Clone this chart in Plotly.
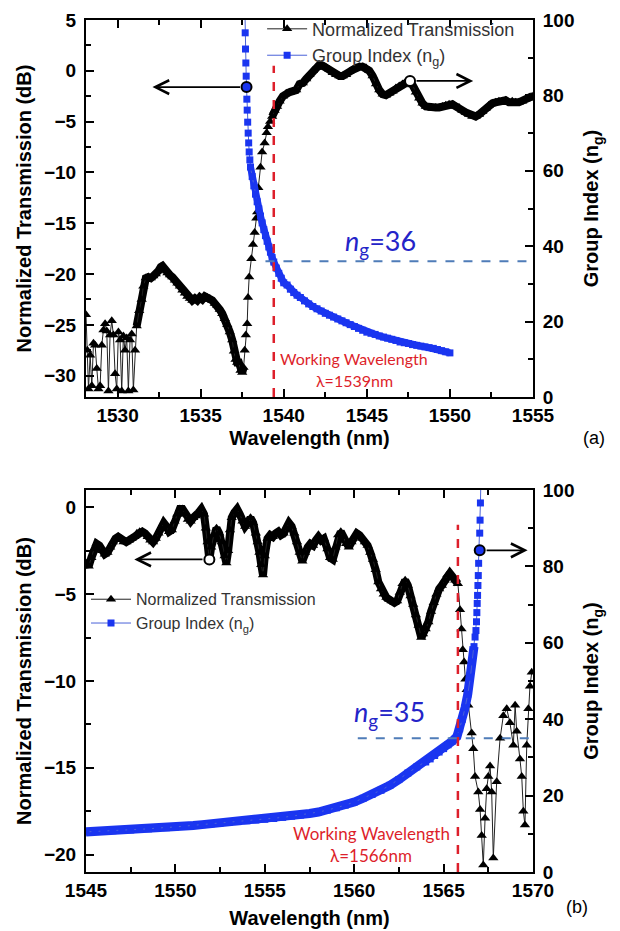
import plotly.graph_objects as go

# ---------------- Panel (a) data ----------------
wl_trans_a = [1528.10, 1528.18, 1528.25, 1528.35, 1528.45, 1528.55, 1528.65, 1528.75, 1528.85, 1528.95,
              1529.05, 1529.15, 1529.25, 1529.35, 1529.45, 1529.55, 1529.65, 1529.75, 1529.85, 1529.95,
              1530.05, 1530.15, 1530.25, 1530.35, 1530.45, 1530.55, 1530.65, 1530.75, 1530.85, 1530.95,
              1531.05, 1531.15, 1531.30, 1531.45, 1531.55, 1531.70, 1531.85, 1532.00, 1532.15, 1532.30,
              1532.45, 1532.60, 1532.70, 1532.85, 1533.00, 1533.15, 1533.30, 1533.45, 1533.60, 1533.75,
              1533.90, 1534.05, 1534.20, 1534.35, 1534.50, 1534.65, 1534.80, 1534.95, 1535.10, 1535.25,
              1535.40, 1535.55, 1535.70, 1535.85, 1536.00, 1536.15, 1536.30, 1536.45, 1536.60, 1536.75,
              1536.90, 1537.00, 1537.10, 1537.20, 1537.30, 1537.40, 1537.50, 1537.58, 1537.65, 1537.72,
              1537.80, 1537.85, 1537.92, 1538.05, 1538.15, 1538.25, 1538.35, 1538.40, 1538.47, 1538.60,
              1538.70, 1538.85, 1538.97, 1539.05, 1539.18, 1539.30, 1539.45, 1539.60, 1539.75, 1539.95,
              1540.15, 1540.35, 1540.55, 1540.75, 1540.95, 1541.15, 1541.35, 1541.55, 1541.75, 1541.95,
              1542.15, 1542.35, 1542.55, 1542.75, 1542.95, 1543.15, 1543.35, 1543.55, 1543.75, 1543.95,
              1544.15, 1544.35, 1544.55, 1544.75, 1544.95, 1545.15, 1545.35, 1545.55, 1545.75, 1545.95,
              1546.15, 1546.35, 1546.55, 1546.75, 1546.95, 1547.15, 1547.35, 1547.55, 1547.75, 1547.95,
              1548.15, 1548.35, 1548.55, 1548.75, 1548.95, 1549.15, 1549.35, 1549.55, 1549.75, 1549.95,
              1550.15, 1550.35, 1550.55, 1550.75, 1550.95, 1551.15, 1551.35, 1551.55, 1551.75, 1551.95,
              1552.15, 1552.35, 1552.55, 1552.75, 1552.95, 1553.15, 1553.35, 1553.55, 1553.75, 1553.95,
              1554.15, 1554.35, 1554.55, 1554.75, 1554.95]
trans_a = [-24.0, -27.5, -31.3, -28.0, -31.0, -26.8, -27.0, -29.3, -31.3, -31.0,
           -27.0, -25.5, -24.9, -25.6, -31.5, -26.0, -24.6, -26.0, -29.8, -31.3,
           -25.7, -26.5, -31.5, -26.1, -27.5, -26.3, -31.5, -26.5, -25.9, -31.4,
           -27.5, -25.1, -23.6, -22.5, -21.2, -20.4, -20.3, -20.4, -20.2, -20.0,
           -19.7, -19.3, -19.2, -19.5, -19.9, -20.1, -20.3, -20.6, -20.9, -21.2,
           -21.6, -21.9, -22.2, -22.4, -22.6, -22.4, -22.6, -22.3, -22.5, -22.2,
           -22.3, -22.4, -22.6, -22.9, -23.1, -23.5, -23.9, -24.4, -25.0, -25.7,
           -26.5, -27.6, -28.4, -28.7, -28.7, -29.5, -29.7, -29.2, -27.5, -26.0,
           -24.9, -22.3, -20.3, -18.5, -17.1, -15.9, -14.5, -13.9, -11.5, -9.5,
           -8.0, -7.1, -6.1, -5.5, -5.0, -4.5, -3.9, -3.5, -3.0, -2.5,
           -2.2, -2.1, -2.0, -1.9, -1.3, -1.2, -0.8, -0.4, 0.0, 0.3,
           0.6, 0.5, 0.3, 0.1, -0.2, -0.4, -0.5, -0.5, -0.4, -0.1,
           0.1, 0.3, 0.4, 0.4, 0.3, 0.0, -0.5, -1.3, -1.9, -2.3,
           -2.4, -2.2, -2.0, -1.7, -1.5, -1.3, -1.1, -1.0, -1.4, -2.1,
           -2.7, -3.2, -3.5, -3.6, -3.7, -3.6, -3.6, -3.5, -3.4, -3.3,
           -3.3, -3.5, -3.6, -3.9, -4.1, -4.3, -4.5, -4.5, -4.3, -4.0,
           -3.7, -3.4, -3.2, -3.1, -3.0, -3.0, -2.9, -3.1, -3.0, -3.1,
           -3.1, -3.0, -2.8, -2.7, -2.5]

wl_ng_a = [1537.67, 1537.68, 1537.70, 1537.72, 1537.74, 1537.76, 1537.78, 1537.80, 1537.83, 1537.86,
           1537.89, 1537.92, 1537.96, 1538.00, 1538.10, 1538.20, 1538.30, 1538.40, 1538.50, 1538.60,
           1538.70, 1538.80, 1538.90, 1539.00, 1539.10, 1539.20, 1539.30, 1539.40, 1539.55, 1539.70,
           1539.85, 1540.00, 1540.20, 1540.40, 1540.60, 1540.80, 1541.00, 1541.25, 1541.50, 1541.75,
           1542.00, 1542.25, 1542.50, 1542.75, 1543.00, 1543.25, 1543.50, 1543.75, 1544.00, 1544.25,
           1544.50, 1544.75, 1545.00, 1545.25, 1545.50, 1545.75, 1546.00, 1546.25, 1546.50, 1546.75,
           1547.00, 1547.25, 1547.50, 1547.75, 1548.00, 1548.25, 1548.50, 1548.75, 1549.00, 1549.25,
           1549.50, 1549.75, 1550.00]
ng_a = [101.0, 96.6, 92.3, 88.6, 85.1, 82.2, 79.0, 76.1, 72.9, 70.0,
        67.4, 65.0, 62.9, 61.0, 58.5, 56.0, 53.8, 51.8, 49.9, 48.0,
        46.2, 44.4, 42.8, 41.3, 39.8, 38.4, 37.0, 35.8, 34.2, 32.8,
        31.5, 30.3, 29.7, 28.6, 27.7, 27.0, 26.4, 25.5, 24.7, 24.0,
        23.4, 22.8, 22.2, 21.7, 21.2, 20.7, 20.2, 19.7, 19.2, 18.7,
        18.2, 17.7, 17.2, 16.9, 16.6, 16.2, 15.9, 15.6, 15.3, 15.0,
        14.6, 14.4, 14.2, 13.9, 13.7, 13.5, 13.3, 13.1, 12.9, 12.6,
        12.3, 12.0, 11.7]

# ---------------- Panel (b) data ----------------
wl_trans_b = [1545.00, 1545.15, 1545.30, 1545.45, 1545.60, 1545.75, 1545.90, 1546.05, 1546.20, 1546.35,
              1546.50, 1546.65, 1546.80, 1546.95, 1547.10, 1547.25, 1547.40, 1547.55, 1547.70, 1547.85,
              1548.00, 1548.15, 1548.30, 1548.45, 1548.60, 1548.75, 1548.90, 1549.05, 1549.20, 1549.35,
              1549.50, 1549.65, 1549.80, 1549.95, 1550.10, 1550.25, 1550.40, 1550.55, 1550.70, 1550.85,
              1551.00, 1551.15, 1551.30, 1551.45, 1551.60, 1551.70, 1551.80, 1551.90, 1552.00, 1552.15,
              1552.30, 1552.45, 1552.60, 1552.75, 1552.85, 1552.95, 1553.05, 1553.15, 1553.30, 1553.45,
              1553.60, 1553.75, 1553.90, 1554.05, 1554.20, 1554.35, 1554.50, 1554.60, 1554.70, 1554.80,
              1554.90, 1555.00, 1555.15, 1555.30, 1555.45, 1555.60, 1555.75, 1555.90, 1556.05, 1556.20,
              1556.35, 1556.50, 1556.65, 1556.80, 1556.95, 1557.10, 1557.25, 1557.40, 1557.55, 1557.70,
              1557.85, 1558.00, 1558.15, 1558.30, 1558.50, 1558.65, 1558.80, 1558.95, 1559.10, 1559.25,
              1559.40, 1559.55, 1559.70, 1559.85, 1560.00, 1560.15, 1560.30, 1560.45, 1560.60, 1560.75,
              1560.90, 1561.05, 1561.20, 1561.35, 1561.50, 1561.65, 1561.80, 1561.95, 1562.10, 1562.25,
              1562.40, 1562.55, 1562.70, 1562.85, 1563.00, 1563.15, 1563.30, 1563.45, 1563.60, 1563.75,
              1563.85, 1564.00, 1564.15, 1564.30, 1564.45, 1564.60, 1564.75, 1564.90, 1565.05, 1565.20,
              1565.35, 1565.50, 1565.65, 1565.80, 1565.92, 1566.00, 1566.07, 1566.15, 1566.22, 1566.29,
              1566.38, 1566.57, 1566.66, 1566.76, 1566.94, 1567.04, 1567.13, 1567.22, 1567.32, 1567.41,
              1567.50, 1567.60, 1567.69, 1567.78, 1567.97, 1568.16, 1568.34, 1568.53, 1568.71, 1568.90,
              1569.00, 1569.09, 1569.27, 1569.37, 1569.46, 1569.55, 1569.65, 1569.74, 1569.83, 1569.93]
trans_b = [-3.2, -3.4, -2.9, -2.4, -2.1, -2.2, -2.5, -2.7, -2.6, -2.3,
           -2.0, -1.8, -1.7, -1.8, -2.0, -2.0, -1.9, -1.8, -1.7, -1.5,
           -1.4, -1.4, -1.5, -1.7, -1.9, -2.0, -1.8, -1.5, -1.2, -0.9,
           -1.1, -1.4, -1.3, -0.8, -0.4, -0.1, -0.1, -0.4, -0.7, -0.8,
           -0.6, -0.5, -0.3, -0.1, -0.4, -1.2, -2.0, -3.0, -2.3, -1.6,
           -1.2, -1.5, -2.0, -2.8, -3.2, -2.5, -1.3, -0.6, -0.3, -0.1,
           -0.4, -0.8, -1.1, -0.9, -0.6, -0.9, -1.5, -2.0, -2.6, -3.3,
           -3.9, -2.8, -1.8, -1.6, -1.7, -1.5, -1.4, -1.6, -1.5, -1.2,
           -0.9, -1.1, -1.5, -2.0, -2.6, -3.1, -2.6, -2.3, -2.1, -2.2,
           -1.9, -1.7, -1.9, -1.8, -2.4, -2.9, -3.0, -2.3, -1.6, -1.4,
           -1.7, -2.1, -2.3, -2.0, -1.7, -1.5, -1.6, -1.8, -2.0, -2.2,
           -2.6, -3.0, -3.6, -4.3, -4.7, -5.0, -5.2, -5.3, -5.4, -5.5,
           -5.4, -4.9, -4.4, -4.2, -4.5, -5.1, -5.6, -6.2, -6.8, -7.5,
           -7.3, -7.0, -6.6, -6.0, -5.5, -5.0, -4.7, -4.5, -4.2, -3.9,
           -3.8, -4.0, -4.2, -4.4, -5.9, -7.0, -8.2, -8.9, -9.9, -10.5,
           -11.4, -13.0, -13.9, -15.5, -16.4, -17.4, -18.9, -20.6, -17.9, -16.2,
           -15.5, -14.9, -16.4, -20.2, -15.8, -13.3, -12.0, -11.6, -12.4, -13.7,
           -11.4, -12.9, -14.5, -15.5, -17.5, -18.3, -13.7, -11.6, -10.3, -9.5]

wl_ng_b = [1545.0, 1545.5, 1546.0, 1546.5, 1547.0, 1547.5, 1548.0, 1548.5, 1549.0, 1549.5,
           1550.0, 1550.5, 1551.0, 1551.5, 1552.0, 1552.5, 1553.0, 1553.5, 1554.0, 1554.5,
           1555.0, 1555.5, 1556.0, 1556.5, 1557.0, 1557.5, 1558.0, 1558.5, 1559.0, 1559.5,
           1560.0, 1560.5, 1561.0, 1561.5, 1562.0, 1562.5, 1563.0, 1563.5, 1564.0, 1564.25,
           1564.5, 1564.75, 1565.0, 1565.25, 1565.5, 1565.75, 1565.9, 1566.05, 1566.2, 1566.35,
           1566.5, 1566.6, 1566.7, 1566.76, 1566.81, 1566.84, 1566.86, 1566.88, 1566.90, 1566.92,
           1566.94, 1566.96, 1566.99, 1567.02, 1567.04, 1567.06, 1567.08]
ng_b = [10.5, 10.6, 10.7, 10.8, 10.9, 11.0, 11.2, 11.3, 11.5, 11.6,
        11.8, 12.0, 12.2, 12.4, 12.6, 12.8, 13.0, 13.2, 13.4, 13.6,
        13.8, 14.0, 14.3, 14.6, 14.9, 15.3, 15.7, 16.2, 16.8, 17.5,
        18.3, 19.3, 20.3, 21.4, 22.7, 24.2, 25.9, 27.5, 28.8, 29.6,
        30.5, 31.4, 32.3, 33.3, 34.3, 35.5, 37.5, 40.0, 43.0, 46.5,
        51.0, 55.0, 59.0, 61.5, 63.2, 65.5, 67.9, 70.3, 72.4, 75.0,
        77.6, 80.8, 84.2, 88.7, 92.1, 96.6, 101.0]

# reference markers / guide values
work_wl_a, work_ng_a = 1539.4, 36
work_wl_b, work_ng_b = 1565.8, 35
circle_a_ng = (1537.76, 82.2)
circle_a_tr = (1547.6, -1.0)
circle_b_tr = (1551.9, -3.0)
circle_b_ng = (1567.02, 84.2)

BLUE = "#1a35f0"
BLUE_LINE = "#4a62d8"
RED = "#dd1f2b"
DASH_BLUE = "#4f7cb8"
TXT = "Liberation Sans, Arial, sans-serif"


def gap_join(xs, ys, ranges):
    """Concatenate slices of the same data, separated by gaps (None)."""
    gx, gy = [], []
    for (i0, i1) in ranges:
        if gx:
            gx.append(None)
            gy.append(None)
        gx += xs[i0:i1]
        gy += ys[i0:i1]
    return gx, gy


fig = go.Figure()

# ---- Panel (a) ----
bx, by = gap_join(wl_trans_a, trans_a, [(31, 78), (95, len(wl_trans_a))])
fig.add_trace(go.Scatter(x=bx, y=by, xaxis="x", yaxis="y", mode="lines", showlegend=False,
                         hoverinfo="skip", line=dict(color="black", width=8)))
fig.add_trace(go.Scatter(x=wl_trans_a, y=trans_a, xaxis="x", yaxis="y", mode="lines+markers",
                         name="Normalized Transmission", legend="legend",
                         line=dict(color="#222222", width=1),
                         marker=dict(symbol="triangle-up", size=9, color="black")))
fig.add_trace(go.Scatter(x=[circle_a_tr[0]], y=[circle_a_tr[1]], xaxis="x", yaxis="y", mode="markers",
                         showlegend=False,
                         marker=dict(symbol="circle", size=10, color="white", line=dict(color="black", width=2))))
bx, by = gap_join(wl_ng_a, ng_a, [(13, len(wl_ng_a))])
fig.add_trace(go.Scatter(x=bx, y=by, xaxis="x", yaxis="y2", mode="lines", showlegend=False,
                         hoverinfo="skip", line=dict(color=BLUE, width=7)))
fig.add_trace(go.Scatter(x=wl_ng_a, y=ng_a, xaxis="x", yaxis="y2", mode="lines+markers",
                         name="Group Index (n<sub>g</sub>)", legend="legend",
                         line=dict(color=BLUE_LINE, width=1),
                         marker=dict(symbol="square", size=7, color=BLUE)))
fig.add_trace(go.Scatter(x=[circle_a_ng[0]], y=[circle_a_ng[1]], xaxis="x", yaxis="y2", mode="markers",
                         showlegend=False,
                         marker=dict(symbol="circle", size=10, color=BLUE, line=dict(color="black", width=2))))

# ---- Panel (b) ----
bx, by = gap_join(wl_trans_b, trans_b, [(0, 144)])
fig.add_trace(go.Scatter(x=bx, y=by, xaxis="x2", yaxis="y3", mode="lines", showlegend=False,
                         hoverinfo="skip", line=dict(color="black", width=8)))
fig.add_trace(go.Scatter(x=wl_trans_b, y=trans_b, xaxis="x2", yaxis="y3", mode="lines+markers",
                         name="Normalized Transmission", legend="legend2",
                         line=dict(color="#222222", width=1),
                         marker=dict(symbol="triangle-up", size=9, color="black")))
fig.add_trace(go.Scatter(x=[circle_b_tr[0]], y=[circle_b_tr[1]], xaxis="x2", yaxis="y3", mode="markers",
                         showlegend=False,
                         marker=dict(symbol="circle", size=10, color="white", line=dict(color="black", width=2))))
bx, by = gap_join(wl_ng_b, ng_b, [(0, 53)])
fig.add_trace(go.Scatter(x=bx, y=by, xaxis="x2", yaxis="y4", mode="lines", showlegend=False,
                         hoverinfo="skip", line=dict(color=BLUE, width=9)))
fig.add_trace(go.Scatter(x=wl_ng_b, y=ng_b, xaxis="x2", yaxis="y4", mode="lines+markers",
                         name="Group Index (n<sub>g</sub>)", legend="legend2",
                         line=dict(color=BLUE_LINE, width=1),
                         marker=dict(symbol="square", size=7, color=BLUE)))
fig.add_trace(go.Scatter(x=[circle_b_ng[0]], y=[circle_b_ng[1]], xaxis="x2", yaxis="y4", mode="markers",
                         showlegend=False,
                         marker=dict(symbol="circle", size=10, color=BLUE, line=dict(color="black", width=2))))

tickfont = dict(family=TXT, size=19, color="black", weight="bold")
titlefont = dict(family=TXT, size=20, color="black", weight="bold")
common = dict(showline=True, linecolor="black", linewidth=2, ticks="inside", ticklen=8, tickwidth=2,
              tickcolor="black", showgrid=False, zeroline=False, tickfont=tickfont, automargin=False)
minor = lambda d: dict(dtick=d, ticks="inside", ticklen=5, tickwidth=1.5, tickcolor="black", showgrid=False)

DOM_A = [0.5575, 1.0]
DOM_B = [0.0, 0.4484]

# The page body adds an 8px offset; the figure is sized so that the plot areas land
# at x 86..533 and y 20..397 / 490..872 in the 620x931 window.
FIG_W, FIG_H = 612, 923
M_L, M_R, M_T, M_B = 78, 87, 12, 59

fig.update_layout(
    template="none",
    width=FIG_W, height=FIG_H,
    margin=dict(l=M_L, r=M_R, t=M_T, b=M_B, autoexpand=False),
    paper_bgcolor="white", plot_bgcolor="white",
    xaxis=dict(domain=[0, 1], anchor="y", range=[1528.1, 1555], tick0=1530, dtick=5,
               mirror="ticks", minor=minor(2.5),
               title=dict(text="Wavelength (nm)", font=titlefont, standoff=6), **common),
    yaxis=dict(domain=DOM_A, anchor="x", range=[-32.1, 5], tick0=0, dtick=5, minor=minor(2.5),
               title=dict(text="Normalized Transmission (dB)", font=titlefont, standoff=7),
               ticklabelstandoff=4, **common),
    yaxis2=dict(overlaying="y", side="right", anchor="x", range=[0, 100], dtick=20, minor=minor(10),
                title=dict(text="Group Index (n<sub>g</sub>)", font=titlefont, standoff=11),
                ticklabelstandoff=4, **common),
    xaxis2=dict(domain=[0, 1], anchor="y3", range=[1545, 1570], tick0=1545, dtick=5,
                mirror="ticks", minor=minor(2.5),
                title=dict(text="Wavelength (nm)", font=titlefont, standoff=11), **common),
    yaxis3=dict(domain=DOM_B, anchor="x2", range=[-21, 1], tick0=0, dtick=5, minor=minor(2.5),
                title=dict(text="Normalized Transmission (dB)", font=titlefont, standoff=7),
                ticklabelstandoff=4, **common),
    yaxis4=dict(overlaying="y3", side="right", anchor="x2", range=[0, 100], dtick=20, minor=minor(10),
                title=dict(text="Group Index (n<sub>g</sub>)", font=titlefont, standoff=11),
                ticklabelstandoff=4, **common),
    legend=dict(x=0.394, y=1.011, xanchor="left", yanchor="top", bgcolor="rgba(0,0,0,0)",
                font=dict(family=TXT, size=18, color="#333333"), tracegroupgap=0, itemwidth=40),
    legend2=dict(x=0.0, y=0.340, xanchor="left", yanchor="top", bgcolor="rgba(0,0,0,0)",
                 font=dict(family=TXT, size=16, color="#333333"), tracegroupgap=0, itemwidth=40),
    showlegend=True,
)

# guide lines
fig.add_shape(type="line", xref="x", yref="y", x0=work_wl_a, x1=work_wl_a, y0=-32.1, y1=0.5,
              line=dict(color=RED, width=2.5, dash="dash"))
fig.add_shape(type="line", xref="x", yref="y2", x0=1538.9, x1=1555, y0=work_ng_a, y1=work_ng_a,
              line=dict(color=DASH_BLUE, width=2, dash="dash"))
fig.add_shape(type="line", xref="x2", yref="y3", x0=work_wl_b, x1=work_wl_b, y0=-21, y1=-1.0,
              line=dict(color=RED, width=2.5, dash="dash"))
fig.add_shape(type="line", xref="x2", yref="y4", x0=1560.2, x1=1570, y0=work_ng_b, y1=work_ng_b,
              line=dict(color=DASH_BLUE, width=2, dash="dash"))

ann_font = "Lato, Liberation Sans, sans-serif"
anns = [
    dict(x=1532.1, y=circle_a_ng[1], xref="x", yref="y2", ax=circle_a_ng[0] - 0.3, ay=circle_a_ng[1],
         axref="x", ayref="y2"),
    dict(x=1551.4, y=circle_a_tr[1], xref="x", yref="y", ax=circle_a_tr[0] + 0.3, ay=circle_a_tr[1],
         axref="x", ayref="y"),
    dict(x=1547.7, y=circle_b_tr[1], xref="x2", yref="y3", ax=circle_b_tr[0] - 0.3, ay=circle_b_tr[1],
         axref="x2", ayref="y3"),
    dict(x=1569.7, y=circle_b_ng[1], xref="x2", yref="y4", ax=circle_b_ng[0] + 0.3, ay=circle_b_ng[1],
         axref="x2", ayref="y4"),
]
for a in anns:
    a.update(text="", showarrow=True, arrowhead=5, arrowsize=1.5, arrowwidth=1.8, arrowcolor="black")
    fig.add_annotation(**a)

fig.add_annotation(x=1545.8, y=41.0, xref="x", yref="y2", showarrow=False,
                   text="<i>n</i><sub>g</sub>=36", font=dict(family=ann_font, size=27, color="#2424c8"))
fig.add_annotation(x=1562.0, y=41.5, xref="x2", yref="y4", showarrow=False,
                   text="<i>n</i><sub>g</sub>=35", font=dict(family=ann_font, size=27, color="#2424c8"))
fig.add_annotation(x=1544.25, y=10.1, xref="x", yref="y2", showarrow=False,
                   text="Working Wavelength", font=dict(family=ann_font, size=16, color=RED))
fig.add_annotation(x=1544.25, y=4.3, xref="x", yref="y2", showarrow=False,
                   text="λ=1539nm", font=dict(family=ann_font, size=16, color=RED))
fig.add_annotation(x=1560.94, y=10.0, xref="x2", yref="y4", showarrow=False,
                   text="Working Wavelength", font=dict(family=ann_font, size=17, color=RED))
fig.add_annotation(x=1560.94, y=4.2, xref="x2", yref="y4", showarrow=False,
                   text="λ=1566nm", font=dict(family=ann_font, size=17, color=RED))

# panel labels (window pixel positions converted to paper coordinates)
PLOT_W = FIG_W - M_L - M_R
PLOT_H = FIG_H - M_T - M_B
for lbl, px, py in [("(a)", 607, 438), ("(b)", 590, 919)]:
    fx, fy = px - 8, py - 8
    fig.add_annotation(x=(fx - M_L) / PLOT_W, y=(FIG_H - M_B - fy) / PLOT_H, xref="paper", yref="paper",
                       showarrow=False, text=lbl, font=dict(family=TXT, size=18, color="black"))

fig.write_html("out.html")
